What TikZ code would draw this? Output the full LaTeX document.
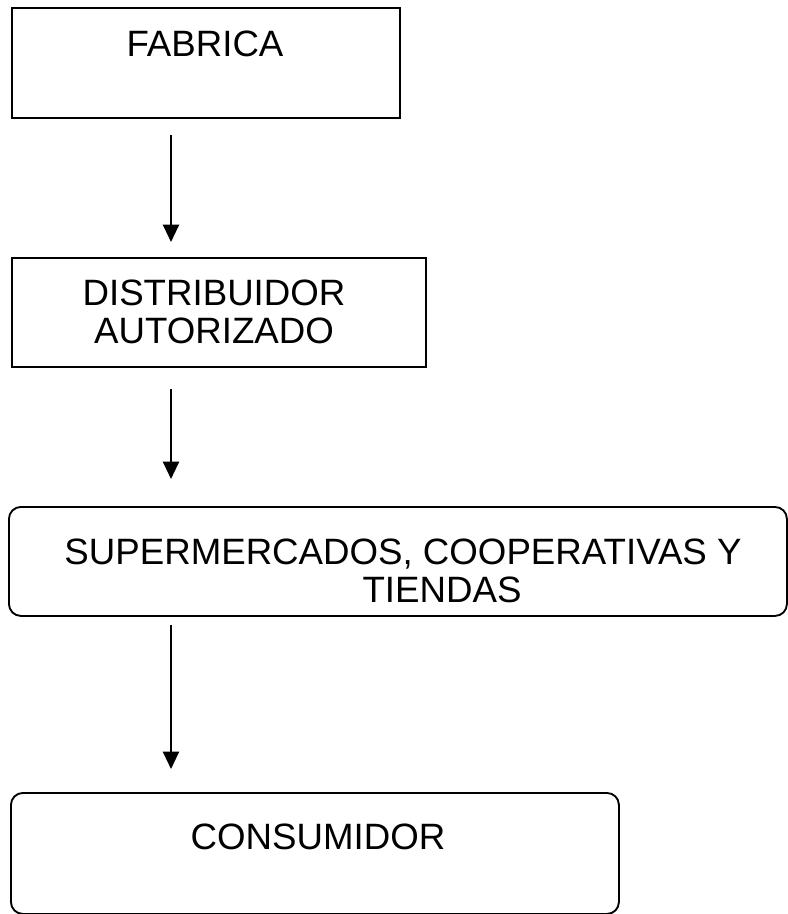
\documentclass[tikz,border=0pt]{standalone}
\usepackage{fontspec}
\setmainfont{Liberation Sans}
\usetikzlibrary{arrows.meta}
\begin{document}
\begin{tikzpicture}[x=0.75pt,y=-0.75pt,
  box/.style={draw=black,line width=1.4pt,inner sep=0pt,anchor=north west},
  rbox/.style={box,rounded corners=9pt},
  lbl/.style={anchor=base,inner sep=0pt,font=\fontsize{27.5}{33}\selectfont},
  flow/.style={line width=1.6pt,-{Triangle[width=12pt,length=13pt]}}]
\useasboundingbox (0,0) rectangle (788,914);
% boxes
\node[box,minimum width=388*0.75pt,minimum height=110*0.75pt] (fab) at (11,7) {};
\node[box,minimum width=414*0.75pt,minimum height=109*0.75pt] (dist) at (11,257) {};
\node[rbox,minimum width=778*0.75pt,minimum height=109*0.75pt] (super) at (8,506) {};
\node[rbox,minimum width=608*0.75pt,minimum height=121*0.75pt] (cons) at (10,792) {};
% texts
\node[lbl] (tfab) at (205,56) {FABRICA};
\node[lbl] (tdist1) at (214,305) {DISTRIBUIDOR};
\node[lbl] (tdist2) at (214,343) {AUTORIZADO};
\node[lbl] (tsup1) at (403,564) {SUPERMERCADOS, COOPERATIVAS Y};
\node[lbl] (tsup2) at (442,602) {TIENDAS};
\node[lbl] (tcons) at (318,849) {CONSUMIDOR};
% arrow end points
\coordinate (a1s) at (171,135);
\coordinate (a1e) at (171,242);
\coordinate (a2s) at (171,389);
\coordinate (a2e) at (171,479);
\coordinate (a3s) at (171,625);
\coordinate (a3e) at (171,769);
\draw[flow] (a1s) -- (a1e);
\draw[flow] (a2s) -- (a2e);
\draw[flow] (a3s) -- (a3e);
\end{tikzpicture}
\end{document}
